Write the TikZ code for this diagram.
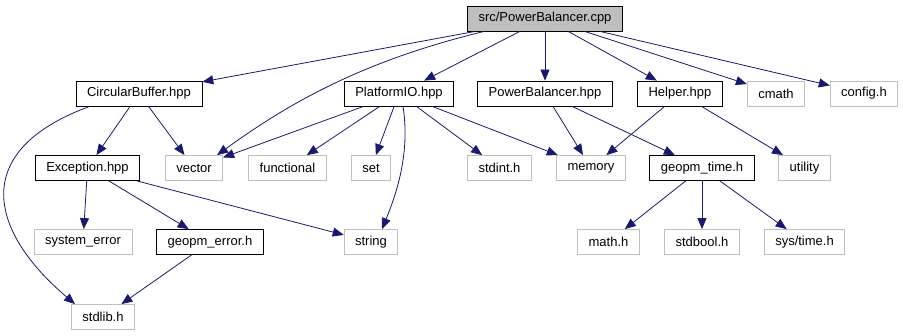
\documentclass[tikz,border=0pt]{standalone}
\usepackage{fontspec}
\setmainfont{Liberation Sans}
\usetikzlibrary{arrows.meta}
\definecolor{edgeblue}{HTML}{191970}
\definecolor{boxgray}{HTML}{BFBFBF}
\tikzstyle{mainfile} = [draw=black, fill=boxgray, rectangle, minimum height=25pt, inner xsep=11pt, line width=0.8pt]
\tikzstyle{docfile} = [draw=black, rectangle, minimum height=25pt, inner xsep=11pt, line width=0.8pt]
\tikzstyle{sysfile} = [draw=boxgray, rectangle, minimum height=25pt, inner xsep=11pt, line width=0.8pt]
\tikzstyle{link} = [->, draw=edgeblue, line width=0.8pt]

\begin{document}
\begin{tikzpicture}[auto, node distance=74.5pt, >={Triangle[length=11pt,width=9pt]}, font=\fontsize{13}{15}\selectfont]
		\useasboundingbox (0,0) rectangle (903pt,-336pt);
		\node [mainfile] (cpp) at (545pt,-18.5pt) {src/PowerBalancer.cpp};
		% direct includes
		\node [docfile, below of=cpp, node distance=75pt] (pbhpp) {PowerBalancer.hpp};
		\node [docfile, left of=pbhpp, node distance=146pt] (pio) {PlatformIO.hpp};
		\node [docfile, left of=pio, node distance=260pt] (cbuf) {CircularBuffer.hpp};
		\node [docfile, right of=pbhpp, node distance=135pt] (helper) {Helper.hpp};
		\node [sysfile, right of=helper, node distance=96pt] (cmath) {cmath};
		\node [sysfile, right of=cmath, node distance=88pt] (config) {config.h};
		% second level
		\node [docfile, below of=cbuf, xshift=-51.5pt] (exc) {Exception.hpp};
		\node [sysfile, right of=exc, node distance=106.5pt] (vector) {vector};
		\node [sysfile, right of=vector, node distance=93.5pt] (functional) {functional};
		\node [sysfile, right of=functional, node distance=83.5pt] (set) {set};
		\node [sysfile, right of=set, node distance=128.5pt] (stdint) {stdint.h};
		\node [sysfile, right of=stdint, node distance=91.5pt] (memory) {memory};
		\node [docfile, right of=memory, node distance=111pt] (gtime) {geopm\_time.h};
		\node [sysfile, right of=gtime, node distance=102.5pt] (utility) {utility};
		% third level
		\node [sysfile, below of=exc, node distance=74pt, xshift=-4.5pt] (syserr) {system\_error};
		\node [docfile, right of=syserr, node distance=127pt] (gerr) {geopm\_error.h};
		\node [sysfile, below of=set, node distance=74pt] (string) {string};
		\node [sysfile, below of=gtime, node distance=74pt, xshift=-93.5pt] (mathh) {math.h};
		\node [sysfile, below of=gtime, node distance=74pt] (stdbool) {stdbool.h};
		\node [sysfile, below of=utility, node distance=74pt] (systime) {sys/time.h};
		\node [sysfile, below of=syserr, node distance=75pt, xshift=20pt] (stdlib) {stdlib.h};

		\draw [link] (cpp) -- (cbuf);
		\draw [link] (cpp.-168) .. controls +(-120pt,-29pt) and +(73pt,53pt) .. ([xshift=-6pt]vector.north east);
		\draw [link] (cpp) -- (pio);
		\draw [link] (cpp) -- (pbhpp);
		\draw [link] (cpp) -- (helper);
		\draw [link] (cpp) -- (cmath);
		\draw [link] (cpp) -- (config);
		\draw [link] (cbuf) -- (exc);
		\draw [link] (cbuf) -- (vector);
		\draw [link] ([xshift=14pt]cbuf.south west) .. controls +(-120pt,-44pt) and +(-87pt,74pt) .. ([xshift=4pt]stdlib.north west);
		\draw [link] (pio) -- (vector);
		\draw [link] (pio) -- (functional);
		\draw [link] (pio) -- (set);
		\draw [link] ([xshift=4pt]pio.south) .. controls +(7pt,-44pt) and +(16pt,39pt) .. ([xshift=11pt]string.north);
		\draw [link] (pio) -- (stdint);
		\draw [link] (pio) -- (memory);
		\draw [link] (pbhpp) -- (memory);
		\draw [link] (pbhpp) -- (gtime);
		\draw [link] (helper) -- (memory);
		\draw [link] (helper) -- (utility);
		\draw [link] (exc) -- (syserr);
		\draw [link] (exc) -- (gerr);
		\draw [link] (exc) -- (string);
		\draw [link] (gerr) -- (stdlib);
		\draw [link] (gtime) -- (mathh);
		\draw [link] (gtime) -- (stdbool);
		\draw [link] (gtime) -- (systime);
	\end{tikzpicture}
\end{document}
